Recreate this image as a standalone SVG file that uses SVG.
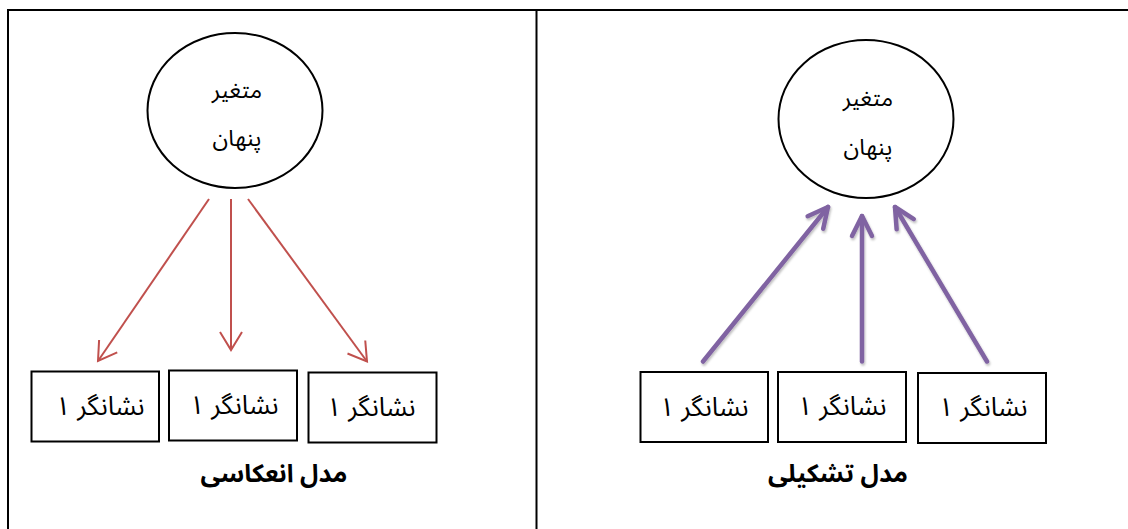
<svg xmlns="http://www.w3.org/2000/svg" width="1128" height="529" viewBox="0 0 1128 529">
  <defs>
    <style>
      .frame { stroke: #000; stroke-width: 2; fill: none; }
      .latent { fill: #fff; stroke: #000; stroke-width: 2; }
      .ind { fill: #fff; stroke: #000; stroke-width: 2; }
      .t { font-family: "Noto Sans Arabic", "DejaVu Sans", sans-serif; font-size: 26px; fill: #000; text-anchor: middle; }
      .tc { font-family: "Noto Sans Arabic", "DejaVu Sans", sans-serif; font-size: 23px; fill: #000; text-anchor: middle; }
      .cap { font-family: "Noto Sans Arabic", "DejaVu Sans", sans-serif; font-size: 25px; font-weight: bold; fill: #000; text-anchor: middle; }
      .refl { stroke: #C0504D; stroke-width: 2; fill: none; }
      .form { stroke: #8064A2; stroke-width: 4.5; stroke-linecap: round; fill: none; }
    </style>
    <marker id="headRed" viewBox="0 0 20 24" refX="19" refY="12" markerWidth="20" markerHeight="24" markerUnits="userSpaceOnUse" orient="auto" overflow="visible">
      <path d="M1,1 L19,12 L1,23" fill="none" stroke="#C0504D" stroke-width="2"/>
    </marker>
    <marker id="headPurple" viewBox="0 0 24 24" refX="22" refY="12" markerWidth="24" markerHeight="24" markerUnits="userSpaceOnUse" orient="auto" overflow="visible">
      <path d="M2,2 L22,12 L2,22" fill="none" stroke="#8064A2" stroke-width="4.5" stroke-linecap="round" stroke-linejoin="round"/>
    </marker>
    <filter id="soft" x="-20%" y="-20%" width="140%" height="140%">
      <feDropShadow dx="1" dy="2" stdDeviation="1.2" flood-color="#000" flood-opacity="0.25"/>
    </filter>
  </defs>

  <rect width="1128" height="529" fill="#fff"/>

  <!-- table frame -->
  <g id="frame">
    <line class="frame" x1="8" y1="10" x2="1128" y2="10"/>
    <line class="frame" x1="8" y1="9" x2="8" y2="529"/>
    <line class="frame" x1="536.5" y1="9" x2="536.5" y2="529"/>
  </g>

  <!-- reflective model -->
  <g id="latent-reflective">
    <ellipse class="latent" cx="235" cy="110.5" rx="87.5" ry="77.5"/>
    <text class="tc" x="237" y="98">متغیر</text>
    <text class="tc" x="237" y="146">پنهان</text>
  </g>
  <g id="refl-ind-1">
    <rect class="ind" x="31.5" y="371.5" width="127.5" height="70"/>
    <text class="t" x="100" y="415">نشانگر ١</text>
  </g>
  <g id="refl-ind-2">
    <rect class="ind" x="169" y="370.5" width="128" height="70"/>
    <text class="t" x="234" y="414">نشانگر ١</text>
  </g>
  <g id="refl-ind-3">
    <rect class="ind" x="308.5" y="372.5" width="128" height="70"/>
    <text class="t" x="371" y="416">نشانگر ١</text>
  </g>
  <g id="refl-caption">
    <text class="cap" x="274" y="482">مدل انعکاسی</text>
  </g>

  <!-- formative model -->
  <g id="latent-formative">
    <ellipse class="latent" cx="866" cy="119" rx="87.5" ry="79"/>
    <text class="tc" x="868" y="106">متغیر</text>
    <text class="tc" x="868" y="155">پنهان</text>
  </g>
  <g id="form-ind-1">
    <rect class="ind" x="640.5" y="372" width="127.5" height="70"/>
    <text class="t" x="704" y="416">نشانگر ١</text>
  </g>
  <g id="form-ind-2">
    <rect class="ind" x="778" y="372" width="128" height="70"/>
    <text class="t" x="842" y="415">نشانگر ١</text>
  </g>
  <g id="form-ind-3">
    <rect class="ind" x="918" y="373" width="128" height="70"/>
    <text class="t" x="983" y="416">نشانگر ١</text>
  </g>
  <g id="form-caption">
    <text class="cap" x="838" y="482">مدل تشکیلی</text>
  </g>

  <!-- connectors -->
  <g id="connectors">
    <line class="refl" x1="209" y1="199" x2="98" y2="361" marker-end="url(#headRed)"/>
    <line class="refl" x1="231" y1="199" x2="231" y2="350" marker-end="url(#headRed)"/>
    <line class="refl" x1="248" y1="199" x2="367" y2="361.5" marker-end="url(#headRed)"/>
    <g filter="url(#soft)">
      <line class="form" x1="703" y1="361.5" x2="828" y2="207" marker-end="url(#headPurple)"/>
      <line class="form" x1="862" y1="361.5" x2="862" y2="216" marker-end="url(#headPurple)"/>
      <line class="form" x1="987" y1="361.5" x2="895" y2="207" marker-end="url(#headPurple)"/>
    </g>
  </g>
</svg>
